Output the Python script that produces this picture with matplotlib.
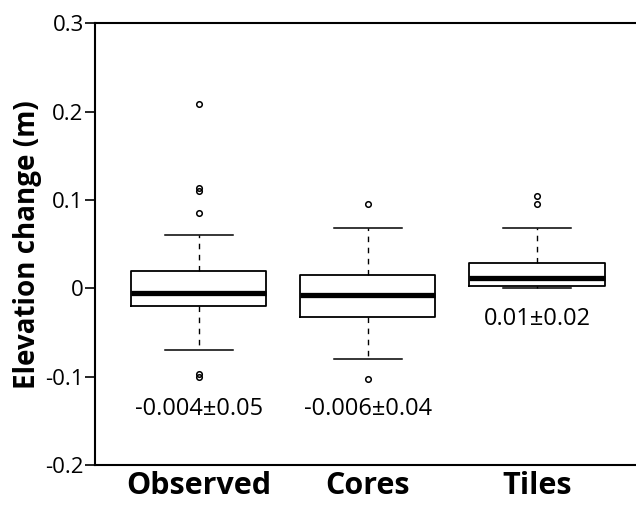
import matplotlib
matplotlib.use("Agg")
import matplotlib.pyplot as plt

categories = ["Observed", "Cores", "Tiles"]
q1 = [-0.020, -0.032, 0.003]
medians = [-0.005, -0.007, 0.012]
q3 = [0.020, 0.015, 0.029]
whislo = [-0.070, -0.080, 0.000]
whishi = [0.060, 0.068, 0.068]
outliers = [[0.209, 0.113, 0.110, 0.085, -0.097, -0.100],
            [0.096, -0.103],
            [0.105, 0.095]]
annotations = ["-0.004\u00b10.05", "-0.006\u00b10.04", "0.01\u00b10.02"]
annot_y = [-0.136, -0.136, -0.035]

plt.rcParams['font.family'] = ['Open Sans', 'DejaVu Sans']

fig = plt.figure(figsize=(6.36, 5.05), dpi=100)
ax = fig.add_axes([0.149, 0.079, 0.851, 0.875])

stats = []
for i, c in enumerate(categories):
    stats.append(dict(label=c, q1=q1[i], med=medians[i], q3=q3[i],
                      whislo=whislo[i], whishi=whishi[i], fliers=outliers[i]))

pos = [1, 2, 3]
ax.bxp(stats, positions=pos, widths=0.8, showfliers=True,
       boxprops=dict(color='black', linewidth=1.3),
       medianprops=dict(color='black', linewidth=3.8, solid_capstyle='butt'),
       whiskerprops=dict(color='black', linewidth=1.0, linestyle=(0, (4, 4))),
       capprops=dict(color='black', linewidth=1.1),
       capwidths=0.4,
       flierprops=dict(marker='o', markersize=4, markerfacecolor='none',
                       markeredgecolor='black', markeredgewidth=1.1))

for p, t, y in zip(pos, annotations, annot_y):
    ax.text(p, y, t, ha='center', va='center', fontsize=17)

ax.set_xlim(0.385, 3.586)
ax.set_ylim(-0.2, 0.3)
ax.set_yticks([-0.2, -0.1, 0, 0.1, 0.2, 0.3])
ax.set_yticklabels(["-0.2", "-0.1", "0", "0.1", "0.2", "0.3"], fontsize=16)
ax.set_xticks(pos)
ax.set_xticklabels(categories, fontsize=22, fontweight='bold')
ax.tick_params(axis='x', length=0, pad=4)
ax.tick_params(axis='y', length=7, width=1.2, pad=1)
ax.set_ylabel("Elevation change (m)", fontsize=20, fontweight='bold', labelpad=2)
for s in ['left', 'top', 'bottom']:
    ax.spines[s].set_linewidth(1.5)
ax.spines['right'].set_visible(False)

fig.savefig("out.png", dpi=100)
